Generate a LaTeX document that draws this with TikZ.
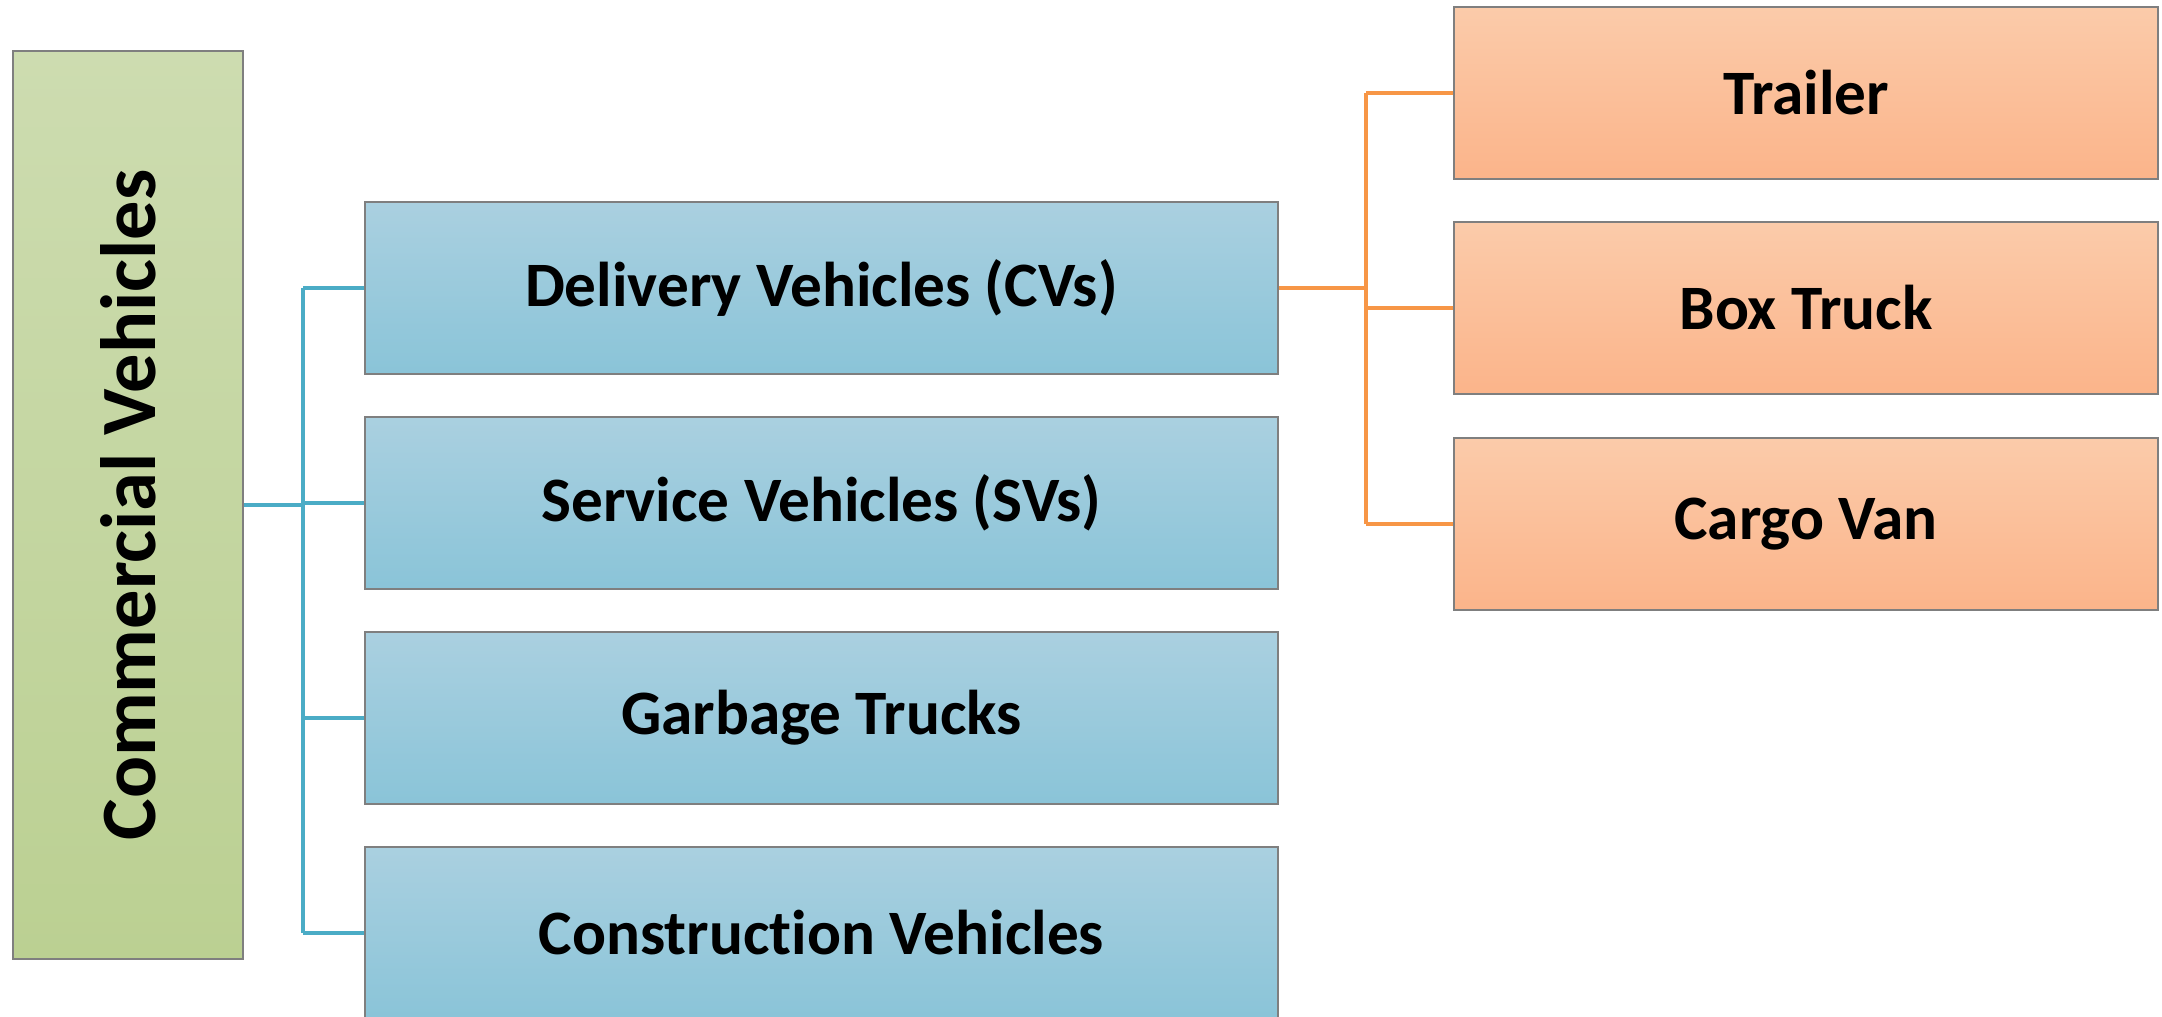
\documentclass[tikz,border=0pt]{standalone}
\usepackage{fontspec}
\setmainfont{Carlito}[Ligatures=NoCommon]
\definecolor{vlink}{HTML}{4BACC6}
\definecolor{olink}{HTML}{F79646}
\definecolor{boxline}{HTML}{7F7F7F}

\begin{document}
\begin{tikzpicture}[
  vcroot/.style = {draw=boxline, line width=0.6pt, top color={rgb,255:red,205;green,220;blue,176}, bottom color={rgb,255:red,187;green,208;blue,146},
    inner sep=0pt, rotate=90,
    font=\bfseries\fontsize{22.3}{26}\selectfont},
  vcgroup/.style = {draw=boxline, line width=0.6pt, top color={rgb,255:red,170;green,208;blue,224}, bottom color={rgb,255:red,138;green,196;blue,216},
    minimum width=9.13cm, minimum height=1.72cm, inner sep=0pt,
    font=\bfseries\fontsize{18}{22}\selectfont},
  vctype/.style = {draw=boxline, line width=0.6pt, top color={rgb,255:red,251;green,203;blue,170}, bottom color={rgb,255:red,251;green,180;blue,138},
    minimum width=7.04cm, minimum height=1.72cm, inner sep=0pt,
    font=\bfseries\fontsize{18}{22}\selectfont},
  vclink/.style = {draw=vlink, line width=1pt},
  vclink2/.style = {draw=olink, line width=1pt}
]
  \useasboundingbox (0,0) rectangle (21.62,10.17);

  % root box, text runs bottom to top
  \node[vcroot, minimum width=9.08cm, minimum height=2.30cm] (cv) at (1.28,5.12) {Commercial Vehicles};

  % vehicle groups
  \node[vcgroup] (dv) at (8.215,7.29) {Delivery Vehicles (CVs)};
  \node[vcgroup] (sv) at (8.215,5.14) {Service Vehicles (SVs)};
  \node[vcgroup] (gt) at (8.215,2.99) {Garbage Trucks};
  \node[vcgroup] (cn) at (8.215,0.84) {Construction Vehicles};

  % delivery vehicle types
  \node[vctype] (tr) at (18.06,9.24) {Trailer};
  \node[vctype] (bt) at (18.06,7.09) {Box Truck};
  \node[vctype] (cg) at (18.06,4.93) {Cargo Van};

  % tree lines, root to groups
  \coordinate (vj) at (3.03,0);
  \draw[vclink] (cv.south) -- (vj |- cv.south);
  \draw[vclink] (vj |- dv.west) -- (vj |- cn.west);
  \foreach \g in {dv,sv,gt,cn}
    \draw[vclink] (vj |- \g.west) -- (\g.west);

  % tree lines, delivery vehicles to types
  \coordinate (oj) at (13.66,0);
  \draw[vclink2] (dv.east) -- (oj |- dv.east);
  \draw[vclink2] (oj |- tr.west) -- (oj |- cg.west);
  \foreach \t in {tr,bt,cg}
    \draw[vclink2] (oj |- \t.west) -- (\t.west);
\end{tikzpicture}
\end{document}
